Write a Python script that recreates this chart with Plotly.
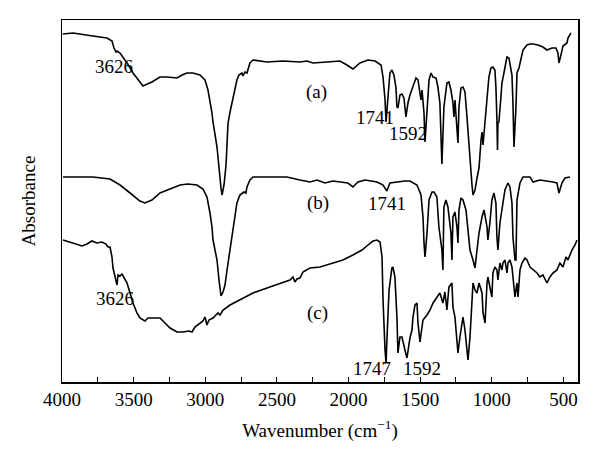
import plotly.graph_objects as go

# ---- data (wavenumber in cm^-1, absorbance in arbitrary offset units) ----
wn_a = [3995, 3923, 3784, 3686, 3651, 3637, 3623, 3616, 3595, 3546, 3504, 3470, 3435, 3372, 3316, 3267,
        3197, 3162, 3128, 3086, 3037, 3002, 2981, 2953, 2946, 2918, 2904, 2890, 2883, 2869, 2855, 2841,
        2827, 2806, 2779, 2765, 2744, 2737, 2723, 2709, 2702, 2688, 2667, 2569, 2457, 2339, 2290, 2248,
        2150, 2060, 2011, 1969, 1920, 1864, 1815, 1773, 1759, 1745, 1738, 1724, 1711, 1697, 1683, 1669,
        1662, 1655, 1641, 1627, 1613, 1599, 1585, 1571, 1550, 1529, 1515, 1501, 1494, 1487, 1473, 1466,
        1452, 1438, 1424, 1410, 1389, 1376, 1362, 1355, 1348, 1334, 1313, 1299, 1285, 1271, 1264, 1257,
        1243, 1236, 1229, 1215, 1201, 1187, 1173, 1159, 1145, 1138, 1131, 1117, 1103, 1089, 1075, 1068,
        1061, 1047, 1033, 1020, 1006, 992, 978, 971, 964, 960, 957, 950, 936, 929, 915, 901, 894, 880,
        866, 859, 852, 845, 831, 824, 810, 796, 782, 754, 733, 712, 678, 643, 615, 580, 552, 538, 531,
        517, 503, 475, 468, 447]
abs_a = [3.48, 3.49, 3.46, 3.44, 3.41, 3.34, 3.30, 3.31, 3.29, 3.19, 3.09, 3.02, 2.96, 3.00, 3.05, 3.05,
         3.04, 3.07, 3.09, 3.09, 3.07, 3.02, 2.92, 2.69, 2.60, 2.35, 2.12, 1.94, 1.87, 1.97, 2.17, 2.59,
         2.70, 2.85, 3.02, 3.07, 3.09, 3.06, 3.10, 3.09, 3.12, 3.19, 3.22, 3.20, 3.21, 3.20, 3.21, 3.19,
         3.20, 3.21, 3.17, 3.13, 3.19, 3.22, 3.21, 3.17, 3.05, 2.82, 2.60, 2.87, 3.09, 3.12, 3.07, 2.95,
         2.75, 2.74, 2.87, 2.88, 2.84, 2.65, 2.79, 2.87, 2.95, 3.04, 3.02, 2.90, 2.82, 2.92, 2.69, 2.40,
         2.72, 3.02, 3.09, 3.05, 3.04, 2.95, 2.79, 2.55, 2.18, 2.75, 2.99, 3.00, 2.92, 2.79, 2.65, 2.82,
         2.55, 2.39, 2.75, 2.94, 2.95, 2.90, 2.65, 2.35, 2.12, 1.97, 1.87, 1.92, 2.04, 2.14, 2.42, 2.50,
         2.37, 2.62, 2.85, 3.05, 3.14, 3.15, 3.12, 2.95, 2.62, 2.32, 2.59, 2.60, 2.85, 2.99, 3.09, 3.22,
         3.25, 3.24, 3.10, 3.07, 2.79, 2.35, 2.75, 3.09, 3.14, 3.25, 3.32, 3.37, 3.38, 3.38, 3.37, 3.35,
         3.32, 3.34, 3.34, 3.29, 3.19, 3.27, 3.36, 3.39, 3.44, 3.49]

wn_b = [3993, 3784, 3665, 3595, 3525, 3456, 3421, 3372, 3316, 3246, 3176, 3121, 3058, 3016, 2988, 2967,
        2953, 2946, 2918, 2904, 2890, 2876, 2862, 2848, 2827, 2806, 2792, 2779, 2758, 2737, 2730, 2716,
        2709, 2688, 2667, 2569, 2430, 2339, 2269, 2220, 2164, 2108, 2046, 2004, 1969, 1934, 1885, 1801,
        1759, 1732, 1711, 1662, 1606, 1571, 1522, 1494, 1480, 1473, 1466, 1452, 1438, 1417, 1403, 1383,
        1369, 1348, 1341, 1334, 1320, 1306, 1285, 1278, 1271, 1257, 1243, 1236, 1229, 1215, 1201, 1180,
        1166, 1152, 1131, 1117, 1103, 1089, 1068, 1054, 1033, 1027, 1013, 999, 985, 971, 964, 957, 943,
        922, 908, 887, 873, 859, 852, 838, 831, 824, 803, 782, 733, 712, 664, 573, 545, 531, 510, 489, 454]
abs_b = [2.05, 2.05, 2.03, 1.97, 1.89, 1.81, 1.79, 1.82, 1.89, 1.93, 1.97, 1.98, 1.97, 1.93, 1.85, 1.69,
         1.55, 1.42, 1.22, 1.02, 0.86, 0.90, 0.97, 1.12, 1.32, 1.55, 1.69, 1.79, 1.87, 1.89, 1.90, 1.89,
         1.95, 2.02, 2.05, 2.05, 2.05, 2.02, 2.00, 2.02, 1.99, 2.01, 2.00, 1.99, 1.95, 2.00, 2.02, 2.00,
         1.97, 1.91, 1.99, 2.00, 2.01, 2.01, 1.97, 1.87, 1.65, 1.39, 1.25, 1.49, 1.82, 1.90, 1.90, 1.85,
         1.55, 1.32, 1.12, 1.75, 1.82, 1.75, 1.49, 1.22, 1.65, 1.70, 1.55, 1.39, 1.72, 1.84, 1.82, 1.72,
         1.52, 1.32, 1.22, 1.14, 1.32, 1.49, 1.65, 1.72, 1.55, 1.42, 1.59, 1.82, 1.89, 1.79, 1.45, 1.32, 1.59,
         1.79, 1.92, 1.99, 1.95, 1.79, 1.45, 1.22, 1.22, 1.82, 1.99, 2.05, 2.05, 2.00, 2.02, 2.00, 1.99, 1.89,
         1.99, 2.04, 2.05]

wn_c = [3993, 3923, 3860, 3826, 3791, 3756, 3721, 3693, 3679, 3665, 3651, 3644, 3630, 3616, 3609, 3595,
        3581, 3567, 3546, 3525, 3504, 3477, 3456, 3421, 3400, 3351, 3316, 3281, 3246, 3197, 3155, 3114,
        3093, 3072, 3037, 3016, 3002, 2988, 2974, 2946, 2925, 2911, 2897, 2876, 2827, 2758, 2667, 2569,
        2478, 2409, 2388, 2374, 2360, 2339, 2318, 2269, 2199, 2108, 2039, 1969, 1906, 1864, 1829, 1801,
        1780, 1766, 1759, 1745, 1738, 1731, 1717, 1697, 1690, 1676, 1662, 1655, 1641, 1627, 1620, 1606,
        1592, 1585, 1571, 1557, 1550, 1536, 1522, 1515, 1501, 1487, 1480, 1452, 1431, 1410, 1383, 1362,
        1341, 1327, 1313, 1299, 1278, 1271, 1257, 1243, 1236, 1222, 1208, 1201, 1187, 1173, 1166, 1152,
        1138, 1131, 1117, 1103, 1089, 1068, 1061, 1047, 1033, 1027, 1013, 999, 992, 978, 964, 957, 943,
        929, 922, 908, 894, 887, 873, 859, 852, 838, 824, 817, 803, 789, 768, 754, 733, 712, 684, 664,
        643, 615, 594, 573, 545, 524, 503, 482, 468, 440, 419, 405]
abs_c = [1.42, 1.39, 1.36, 1.38, 1.41, 1.39, 1.40, 1.38, 1.35, 1.35, 1.25, 1.14, 1.04, 0.97, 1.07, 1.06,
         1.08, 1.04, 0.99, 0.89, 0.79, 0.69, 0.64, 0.61, 0.64, 0.64, 0.64, 0.59, 0.54, 0.50, 0.50, 0.51,
         0.50, 0.55, 0.59, 0.61, 0.65, 0.57, 0.62, 0.64, 0.67, 0.69, 0.67, 0.72, 0.77, 0.82, 0.89, 0.94,
         0.99, 1.02, 1.05, 1.00, 1.03, 1.04, 1.10, 1.14, 1.15, 1.19, 1.22, 1.27, 1.32, 1.37, 1.41, 1.42,
         1.40, 1.25, 0.82, 0.32, 0.19, 0.45, 0.92, 1.14, 1.15, 1.05, 0.65, 0.29, 0.45, 0.45, 0.40, 0.32,
         0.24, 0.32, 0.44, 0.52, 0.65, 0.77, 0.79, 0.59, 0.40, 0.55, 0.62, 0.67, 0.72, 0.79, 0.85, 0.89,
         0.79, 0.90, 0.72, 0.95, 0.99, 0.75, 0.65, 0.45, 0.29, 0.45, 0.59, 0.65, 0.52, 0.32, 0.22, 0.45,
         0.79, 0.99, 0.92, 0.89, 0.99, 0.89, 0.69, 0.59, 0.99, 1.05, 0.95, 0.85, 1.09, 1.15, 1.12, 1.02, 1.19,
         1.12, 1.19, 1.22, 1.09, 1.19, 1.22, 1.15, 1.05, 0.85, 0.99, 0.85, 1.12, 1.19, 1.24, 1.22, 1.15, 1.12,
         1.09, 1.05, 1.07, 0.99, 1.05, 1.09, 1.12, 1.19, 1.15, 1.25, 1.22, 1.32, 1.37, 1.42]

# annotation labels: (text, wavenumber, absorbance)
labels = [("3626", 3637, 3.16), ("(a)", 2222, 2.90), ("1741", 1817, 2.65), ("1592", 1587, 2.49),
          ("(b)", 2215, 1.79), ("1741", 1733, 1.79),
          ("3626", 3630, 0.84), ("(c)", 2215, 0.69), ("1747", 1838, 0.14), ("1592", 1489, 0.14)]

FONT = "Liberation Serif"
FS = 19

fig = go.Figure()
for wx, ay in [(wn_a, abs_a), (wn_b, abs_b), (wn_c, abs_c)]:
    fig.add_trace(go.Scatter(x=wx, y=ay, mode="lines",
                             line=dict(color="black", width=1.6), showlegend=False, hoverinfo="skip"))

for txt, lx, ly in labels:
    fig.add_annotation(x=lx, y=ly, text=txt, showarrow=False,
                       font=dict(family=FONT, size=FS, color="black"))

fig.update_layout(
    template="none",
    width=600, height=465,
    margin=dict(l=62, r=22, t=20, b=83, autoexpand=False),
    paper_bgcolor="white", plot_bgcolor="white",
    font=dict(family=FONT, size=FS, color="black"),
    xaxis=dict(range=[4000, 398], showgrid=False, zeroline=False, automargin=False,
               showline=True, mirror=True, linecolor="black", linewidth=1.5,
               ticks="inside", ticklen=5, tickwidth=1, tickcolor="black",
               tickmode="array", tickvals=[4000, 3500, 3000, 2500, 2000, 1500, 1000, 500],
               minor=dict(tickmode="array", tickvals=[3750, 3250, 2750, 2250, 1750, 1250, 750],
                          ticks="inside", ticklen=5, tickcolor="black"),
               tickfont=dict(family=FONT, size=FS),
               title=dict(text="Wavenumber (cm<sup>−1</sup>)", font=dict(family=FONT, size=FS), standoff=14)),
    yaxis=dict(range=[0, 3.62], showgrid=False, zeroline=False, automargin=False,
               showline=True, mirror=True, linecolor="black", linewidth=1.5,
               showticklabels=False, ticks="",
               title=dict(text="Absorbance", font=dict(family=FONT, size=FS), standoff=20)),
)

fig.write_html("out.html", config={"displayModeBar": False, "staticPlot": True},
               post_script="document.body.style.margin='0';document.body.style.overflow='hidden';")
